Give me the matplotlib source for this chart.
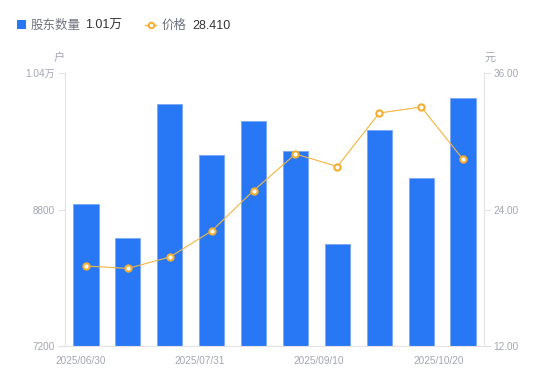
import matplotlib
matplotlib.use("Agg")
import matplotlib.pyplot as plt
from matplotlib.lines import Line2D
from matplotlib.patches import Rectangle

plt.rcParams['font.family'] = ['Liberation Sans', 'Noto Sans CJK SC', 'DejaVu Sans']

dates = ["2025/06/30", "2025/07/10", "2025/07/20", "2025/07/31", "2025/08/15",
         "2025/08/31", "2025/09/10", "2025/09/20", "2025/09/30", "2025/10/20"]
holders = [8864, 8466, 10037, 9439, 9837, 9486, 8396, 9732, 9169, 10107]
price = [19.03, 18.82, 19.82, 22.11, 25.66, 28.88, 27.78, 32.48, 33.01, 28.41]
shown_labels = ["2025/06/30", "2025/07/31", "2025/09/10", "2025/10/20"]
label_pos = [-0.12, 2.72, 5.56, 8.43]
left_ticks = [7200, 8800, 10400]
left_labels = ["7200", "8800", "1.04万"]
right_ticks = [12, 24, 36]

W, H = 550, 381
fig = plt.figure(figsize=(W / 100, H / 100), dpi=100)
ax = fig.add_axes([65 / W, (H - 346) / H, (484 - 65) / W, (346 - 73) / H])

grey = '#e3e3e6'
tickc = '#a3a6b4'
x = list(range(len(dates)))
ax.bar(x, holders, width=0.6, color='#2878f5', edgecolor='#7eaaf5', linewidth=0.7, zorder=2)
ax.set_xlim(-0.5, len(dates) - 0.5)
ax.set_ylim(7200, 10400)
ax.set_yticks(left_ticks)
ax.set_yticklabels(left_labels)
ax.set_xticks(label_pos)
ax.set_xticklabels(shown_labels)
ax.tick_params(axis='x', length=0, pad=7, labelsize=7.2, labelcolor=tickc)
ax.tick_params(axis='y', length=5, width=0.8, color=grey, pad=2, labelsize=7.2, labelcolor=tickc)
for s in ['top', 'right', 'bottom']:
    ax.spines[s].set_visible(False)
ax.spines['left'].set_color(grey)
ax.spines['left'].set_linewidth(0.8)
ax.add_line(Line2D([-0.012, 1.012], [0, 0], transform=ax.transAxes, color=grey,
                   lw=0.8, clip_on=False, zorder=3))

ax2 = ax.twinx()
ax2.plot(x, price, color='#f5b53f', lw=0.8, marker='o', markersize=4.5,
         markerfacecolor='white', markeredgecolor='#f5ad2f', markeredgewidth=1.5, zorder=4)
ax2.set_ylim(12, 36)
ax2.set_yticks(right_ticks)
ax2.set_yticklabels([f"{v:.2f}" for v in right_ticks])
ax2.tick_params(axis='y', length=5, width=0.8, color=grey, pad=2, labelsize=7.2, labelcolor=tickc)
for s in ['top', 'left', 'bottom']:
    ax2.spines[s].set_visible(False)
ax2.spines['right'].set_color(grey)
ax2.spines['right'].set_linewidth(0.8)

# unit labels
fig.text(59 / W, 1 - 58 / H, "户", ha='center', va='center', fontsize=8, color=tickc)
fig.text(490 / W, 1 - 58 / H, "元", ha='center', va='center', fontsize=8, color=tickc)

# legend
ly = 1 - 24.7 / H
ty = 1 - 26 / H
fig.patches.append(Rectangle((17 / W, 1 - 29 / H), 9 / W, 9 / H, transform=fig.transFigure,
                             facecolor='#2878f5', edgecolor='none'))
fig.text(31 / W, ty, "股东数量", ha='left', va='center', fontsize=9, color='#70737f')
fig.text(85 / W, ty, f"{holders[-1] / 10000:.2f}万", ha='left', va='center', fontsize=9, color='#333333')
fig.lines.append(Line2D([145 / W, 156 / W], [ly, ly], transform=fig.transFigure,
                        color='#f5b53f', lw=1))
fig.lines.append(Line2D([150.5 / W], [ly], transform=fig.transFigure, marker='o',
                        markersize=4, markerfacecolor='white', markeredgecolor='#f5ad2f',
                        markeredgewidth=1.4))
fig.text(162 / W, ty, "价格", ha='left', va='center', fontsize=9, color='#70737f')
fig.text(192 / W, ty, f"{price[-1]:.3f}", ha='left', va='center', fontsize=9, color='#333333')

fig.savefig("out.png", dpi=100)
